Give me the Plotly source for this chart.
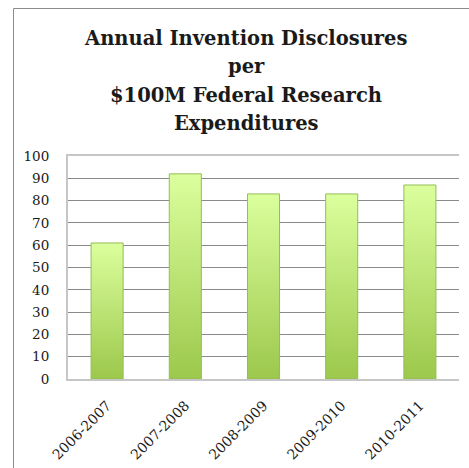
import plotly.graph_objects as go

categories = ["2006-2007", "2007-2008", "2008-2009", "2009-2010", "2010-2011"]
values = [61, 92, 83, 83, 87]
title_lines = ["Annual Invention Disclosures", "per", "$100M Federal Research", "Expenditures"]
y_ticks = [0, 10, 20, 30, 40, 50, 60, 70, 80, 90, 100]

W, H = 469, 468
L, R, T, B = 68, 10, 156, 89
pw = W - L - R
ph = H - T - B


def px_x(px):
    return (px - L) / pw


def px_y(py):
    return (H - B - py) / ph


fig = go.Figure()
hw = 0.205
for i, v in enumerate(values):
    fig.add_trace(go.Scatter(
        x=[i - hw, i - hw, i + hw, i + hw, i - hw],
        y=[0, v, v, 0, 0],
        mode="lines",
        fill="toself",
        fillgradient=dict(type="vertical", colorscale=[[0, "#9cc84c"], [1, "#dbff9d"]]),
        line=dict(color="#95bd55", width=1),
        hoverinfo="skip",
        showlegend=False,
    ))

title_font = dict(family="DejaVu Serif", size=19.5, color="#1a1a1a", weight="bold")
baselines = [45, 73.5, 102, 130.5]
annotations = []
for line, bl in zip(title_lines, baselines):
    annotations.append(dict(
        text=line, xref="paper", yref="paper",
        x=px_x(246), y=px_y(bl - 7), xanchor="center", yanchor="middle",
        showarrow=False, font=title_font,
    ))

fig.update_layout(
    width=W, height=H,
    margin=dict(l=L, r=R, t=T, b=B, autoexpand=False),
    paper_bgcolor="white", plot_bgcolor="white",
    annotations=annotations,
    shapes=[dict(type="rect", xref="paper", yref="paper",
                 x0=px_x(13.5), y0=px_y(8.5), x1=px_x(490), y1=px_y(490),
                 line=dict(color="#8c8c8c", width=1), layer="above")],
    xaxis=dict(
        range=[-0.5, 4.5], tickmode="array", tickvals=list(range(len(categories))),
        ticktext=categories, tickangle=-45, showgrid=False, zeroline=False,
        showline=True, mirror=True, linecolor="#c6c6c6", linewidth=2, ticks="",
        tickfont=dict(family="DejaVu Serif", size=14, color="#1a1a1a"),
        ticklabelstandoff=11, fixedrange=True, automargin=False,
    ),
    yaxis=dict(
        range=[0, 100], tickmode="array", tickvals=y_ticks,
        showgrid=True, gridcolor="#8a8a8a", gridwidth=1, zeroline=False,
        showline=True, linecolor="#c6c6c6", linewidth=2, ticks="",
        tickfont=dict(family="DejaVu Serif", size=13.5, color="#1a1a1a"),
        ticklabelstandoff=14, fixedrange=True, automargin=False,
    ),
)

fig.write_html("out.html")
